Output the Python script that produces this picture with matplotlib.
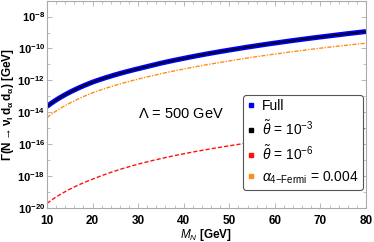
import matplotlib
matplotlib.use("Agg")
import matplotlib.pyplot as plt
import numpy as np
from matplotlib.lines import Line2D
from matplotlib.ticker import FixedLocator, NullFormatter

plt.rcParams['font.family'] = ['Liberation Sans', 'DejaVu Sans']
plt.rcParams['mathtext.fontset'] = 'custom'
plt.rcParams['mathtext.rm'] = 'Liberation Sans'
plt.rcParams['mathtext.it'] = 'Liberation Sans:italic'
plt.rcParams['mathtext.bf'] = 'Liberation Sans:bold'
plt.rcParams['mathtext.bfit'] = 'Liberation Sans:bold:italic'

# data (log10 of width in GeV)
mass = [10, 20, 30, 40, 50, 60, 70, 80]
full_log = [-13.63, -12.11, -11.27, -10.62, -10.10, -9.66, -9.28, -8.94]
theta3_log = [-13.63, -12.11, -11.27, -10.62, -10.10, -9.66, -9.28, -8.94]
theta6_log = [-19.71, -18.19, -17.25, -16.60, -16.10, -15.67, -15.31, -15.02]
fermi_log = [-14.33, -12.78, -11.92, -11.29, -10.78, -10.35, -9.98, -9.67]

xticks = [10, 20, 30, 40, 50, 60, 70, 80]
yticks_exp = [-20, -18, -16, -14, -12, -10, -8]

fig = plt.figure(figsize=(3.74, 2.42), dpi=100)
ax = fig.add_axes([0.1257, 0.1405, 0.8529, 0.857])

mfine = np.linspace(10, 80, 300)
def interp(vals):
    return 10 ** np.interp(np.log10(mfine), np.log10(mass), vals)

ax.plot(mfine, interp(full_log), color='#0000ff', lw=3.6, solid_capstyle='butt')
ax.plot(mfine, interp(theta3_log), color='#000020', lw=1.3)
ax.plot(mfine, interp(theta6_log), color='#ff1010', lw=1.0, ls=(0, (3, 1.5)))
ax.plot(mfine, interp(fermi_log), color='#ff8c1a', lw=1.0, ls=(0, (3, 1, 1, 1)))

ax.set_yscale('log')
ax.set_xlim(10, 80)
ax.set_ylim(1e-20, 1e-7)
ax.set_xticks(xticks)
ax.set_xticklabels([str(t) for t in xticks], fontweight='bold', fontsize=8.5)
ax.yaxis.set_major_locator(FixedLocator([10.0 ** e for e in yticks_exp]))
ax.set_yticklabels([r'$\mathbf{10^{%d}}$' % e for e in yticks_exp], fontsize=8)
ax.yaxis.set_minor_locator(FixedLocator([10.0 ** e for e in range(-20, -6)]))
ax.yaxis.set_minor_formatter(NullFormatter())
ax.xaxis.set_minor_locator(FixedLocator(np.arange(10, 81, 2)))

for sp in ax.spines.values():
    sp.set_color('#aaaaaa')
    sp.set_linewidth(0.8)
ax.tick_params(which='both', direction='in', top=True, right=True, color='#aaaaaa')
ax.tick_params(axis='x', which='both', pad=5)
ax.tick_params(axis='y', which='both', pad=1.5)
ax.tick_params(which='major', length=3.5, width=0.6)
ax.tick_params(which='minor', length=2, width=0.5)

ax.set_xlabel(r'$\boldsymbol{M_N}$ [GeV]', fontweight='bold', fontsize=8.5, labelpad=0)
ax.set_ylabel(r'$\mathbf{\Gamma(N \rightarrow \nu_l\, d_\alpha\, d_\alpha)}$ [GeV]',
              fontweight='bold', fontsize=8.5, labelpad=1)

ax.text(0.42, 0.455, r'$\Lambda$ = 500 GeV', transform=ax.transAxes, fontsize=10.5,
        ha='center', va='center')

handles = [
    Line2D([], [], ls='none', marker='s', color='#0000ff', markersize=3.5),
    Line2D([], [], ls='none', marker='s', color='black', markersize=3.5),
    Line2D([], [], ls='none', marker='s', color='#ff1010', markersize=3.5),
    Line2D([], [], ls='none', marker='s', color='#ff8c1a', markersize=3.5),
]
labels = ['Full', r'$\tilde{\theta}$ = 10$^{-3}$', r'$\tilde{\theta}$ = 10$^{-6}$',
          r'$\alpha_{4\mathrm{-Fermi}}$ = 0.004']
leg = ax.legend(handles, labels, loc='upper left', bbox_to_anchor=(0.614, 0.545),
                fontsize=10, frameon=True, fancybox=True, handlelength=0.6,
                handletextpad=0.5, labelspacing=0.45, borderpad=0.3,
                borderaxespad=0)
leg.get_frame().set_edgecolor('#555555')
leg.get_frame().set_linewidth(0.8)
leg.get_frame().set_alpha(1)

fig.savefig('out.png', dpi=100)
